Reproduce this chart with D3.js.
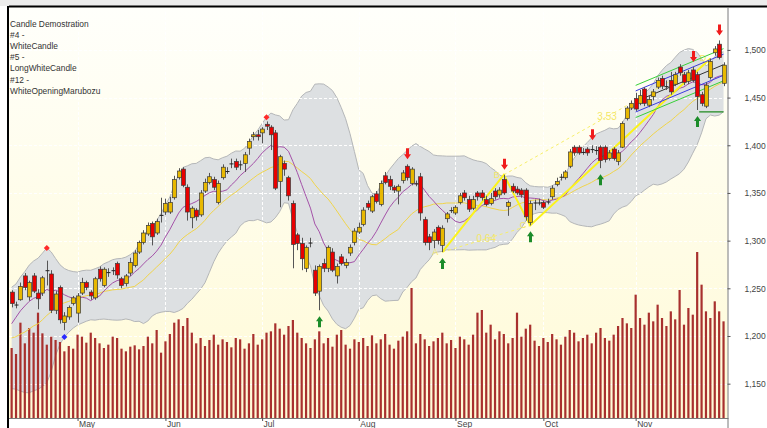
<!DOCTYPE html>
<html>
<head>
<meta charset="utf-8">
<script src="https://cdn.jsdelivr.net/npm/d3@7"></script>
<style>
  body { margin: 0; background: #fff; }
  svg { display: block; font-family: "Liberation Sans", Arial, sans-serif; }
</style>
</head>
<body>
<svg id="chart" width="767" height="428"></svg>
<script>
// ---- data ----
const legendLines = ["Candle Demostration", "#4 -", "WhiteCandle", "#5 -", "LongWhiteCandle", "#12 -", "WhiteOpeningMarubozu"];

// closes before the first visible day, only used by the moving averages / band
const leadCloses = [1205, 1198, 1210, 1190, 1183, 1195, 1178, 1177, 1150, 1144,
  1165, 1185, 1200, 1208, 1215, 1222, 1225, 1228, 1247];

const opens = [1246, 1233, 1238, 1263, 1241, 1263, 1245, 1245, 1269, 1265,
  1227, 1251, 1214, 1220, 1234, 1224, 1245, 1256, 1246, 1240,
  1270, 1253, 1267, 1269, 1276, 1260, 1255, 1266, 1274, 1288,
  1298, 1307, 1318, 1308, 1327, 1330, 1330, 1345, 1366, 1375,
  1356, 1324, 1332, 1327, 1352, 1361, 1364, 1340, 1366, 1373,
  1381, 1383, 1380, 1381, 1397, 1409, 1411, 1413, 1422, 1419,
  1413, 1362, 1381, 1366, 1339, 1306, 1297, 1271, 1298, 1269,
  1247, 1276, 1271, 1288, 1263, 1283, 1274, 1287, 1298, 1309,
  1317, 1339, 1331, 1349, 1338, 1368, 1364, 1356, 1352, 1363,
  1378, 1360, 1360, 1367, 1322, 1304, 1300, 1314, 1295, 1323,
  1332, 1329, 1340, 1350, 1343, 1334, 1350, 1350, 1343, 1339,
  1352, 1348, 1364, 1336, 1357, 1354, 1353, 1353, 1319, 1340,
  1340, 1340, 1341, 1346, 1359, 1367, 1366, 1378, 1398, 1398,
  1393, 1396, 1396, 1395, 1398, 1398, 1386, 1396, 1383, 1398,
  1428, 1439, 1449, 1444, 1459, 1442, 1451, 1461, 1470, 1462,
  1468, 1464, 1482, 1474, 1467, 1479, 1474, 1453, 1441, 1471,
  1497, 1506, 1465];
const highs = [1248, 1236, 1256, 1266, 1258, 1266, 1249, 1263, 1279, 1269,
  1247, 1253, 1225, 1232, 1242, 1245, 1261, 1258, 1248, 1262,
  1273, 1272, 1271, 1272, 1278, 1262, 1265, 1282, 1290, 1300,
  1311, 1319, 1320, 1323, 1345, 1344, 1346, 1368, 1376, 1377,
  1359, 1336, 1334, 1353, 1365, 1371, 1367, 1363, 1380, 1377,
  1386, 1386, 1384, 1393, 1407, 1414, 1416, 1419, 1425, 1421,
  1416, 1390, 1384, 1368, 1342, 1308, 1303, 1295, 1303, 1274,
  1275, 1281, 1295, 1292, 1276, 1286, 1281, 1296, 1313, 1319,
  1335, 1342, 1348, 1352, 1363, 1372, 1368, 1358, 1359, 1374,
  1380, 1377, 1363, 1371, 1325, 1307, 1312, 1316, 1316, 1330,
  1335, 1337, 1350, 1353, 1347, 1347, 1352, 1353, 1347, 1350,
  1355, 1356, 1369, 1342, 1360, 1357, 1355, 1355, 1342, 1343,
  1344, 1342, 1344, 1358, 1366, 1370, 1374, 1396, 1400, 1400,
  1397, 1398, 1400, 1399, 1400, 1400, 1395, 1398, 1395, 1425,
  1441, 1447, 1455, 1458, 1461, 1452, 1459, 1471, 1473, 1468,
  1477, 1477, 1485, 1477, 1479, 1482, 1477, 1456, 1466, 1491,
  1504, 1510, 1487];
const lows = [1230, 1229, 1237, 1248, 1237, 1245, 1228, 1242, 1253, 1224,
  1223, 1213, 1206, 1217, 1232, 1214, 1243, 1248, 1238, 1238,
  1257, 1251, 1262, 1264, 1260, 1250, 1252, 1263, 1272, 1286,
  1296, 1305, 1295, 1306, 1319, 1327, 1328, 1343, 1364, 1356,
  1321, 1313, 1321, 1325, 1350, 1359, 1353, 1338, 1364, 1370,
  1376, 1374, 1374, 1372, 1390, 1405, 1405, 1402, 1416, 1395,
  1353, 1335, 1368, 1342, 1271, 1290, 1269, 1267, 1293, 1242,
  1227, 1267, 1267, 1267, 1255, 1274, 1271, 1284, 1295, 1307,
  1315, 1332, 1329, 1339, 1336, 1359, 1353, 1350, 1338, 1360,
  1363, 1358, 1357, 1321, 1295, 1290, 1292, 1296, 1288, 1319,
  1329, 1327, 1338, 1342, 1330, 1332, 1342, 1342, 1336, 1337,
  1343, 1345, 1348, 1326, 1350, 1348, 1345, 1321, 1316, 1332,
  1337, 1333, 1338, 1343, 1357, 1363, 1364, 1376, 1389, 1390,
  1390, 1389, 1392, 1390, 1376, 1382, 1384, 1384, 1379, 1397,
  1426, 1437, 1436, 1442, 1441, 1440, 1447, 1459, 1459, 1458,
  1453, 1462, 1473, 1463, 1464, 1466, 1437, 1441, 1439, 1469,
  1494, 1490, 1462];
const closes = [1234, 1233, 1252, 1251, 1256, 1247, 1239, 1261, 1269, 1227,
  1244, 1217, 1221, 1230, 1240, 1242, 1256, 1251, 1242, 1260,
  1260, 1270, 1267, 1269, 1264, 1253, 1263, 1277, 1287, 1298,
  1308, 1316, 1304, 1320, 1327, 1339, 1340, 1364, 1373, 1358,
  1330, 1334, 1325, 1350, 1361, 1367, 1356, 1360, 1377, 1373,
  1381, 1377, 1380, 1390, 1404, 1411, 1409, 1417, 1420, 1411,
  1355, 1388, 1375, 1347, 1296, 1297, 1281, 1293, 1298, 1245,
  1273, 1271, 1293, 1269, 1273, 1276, 1277, 1293, 1310, 1314,
  1332, 1335, 1346, 1341, 1360, 1361, 1357, 1353, 1357, 1371,
  1366, 1375, 1360, 1329, 1298, 1298, 1309, 1300, 1313, 1328,
  1332, 1335, 1347, 1345, 1333, 1343, 1346, 1345, 1338, 1344,
  1346, 1353, 1350, 1340, 1352, 1350, 1348, 1325, 1339, 1340,
  1340, 1335, 1341, 1355, 1362, 1367, 1372, 1393, 1392, 1392,
  1393, 1392, 1396, 1395, 1384, 1385, 1392, 1386, 1392, 1423,
  1439, 1444, 1438, 1452, 1444, 1448, 1456, 1468, 1462, 1462,
  1456, 1474, 1476, 1466, 1476, 1468, 1451, 1444, 1463, 1488,
  1501, 1492, 1484];
const volumes = [105, 96, 143, 112, 135, 128, 158, 127, 110, 122,
  117, 114, 100, 108, 104, 125, 122, 113, 128, 120,
  112, 105, 110, 122, 120, 104, 100, 107, 109, 103,
  108, 122, 112, 132, 98, 115, 126, 143, 148, 138,
  150, 128, 112, 120, 108, 117, 125, 110, 118, 114,
  106, 120, 118, 104, 112, 126, 110, 118, 128, 130,
  142, 134, 125, 138, 147, 128, 120, 112, 105, 118,
  130, 112, 120, 107, 125, 132, 110, 104, 118, 114,
  120, 108, 124, 112, 118, 126, 110, 104, 116, 122,
  130, 195, 112, 126, 118, 108, 115, 120, 128, 112,
  117, 105, 122, 118, 110, 125, 158, 162, 128, 140,
  118, 130, 126, 112, 120, 158, 122, 134, 140, 116,
  108, 120, 114, 126, 118, 110, 122, 132, 128, 115,
  120, 125, 112, 128, 135, 120, 116, 125, 138, 150,
  142, 135, 185, 150, 140, 158, 145, 170, 150, 138,
  160, 148, 192, 140, 165, 155, 249, 200, 160, 150,
  175, 160, 145];

const monthLabels = ["May", "Jun", "Jul", "Aug", "Sep", "Oct", "Nov"];
const monthStarts = [15, 35, 57, 79, 101, 121, 142];
const priceTicks = [1150, 1200, 1250, 1300, 1350, 1400, 1450, 1500];

// signal markers (day index)
const upperBandDots = [8, 58];
const lowerBandDots = [12];
const sellArrows = [90, 112, 132, 155, 161];
const buyArrows = [70, 98, 118, 134, 156];

// ABCD pattern
const patternPoints = [
  { label: "A", day: 98, value: 1288 },
  { label: "B", day: 112, value: 1369 },
  { label: "C", day: 118, value: 1316 },
  { label: "D", day: 159, value: 1491 }
];
const patternRatios = [
  { label: "0.64", from: 0, to: 2 },
  { label: "3.53", from: 1, to: 3 }
];

const channelStart = 142;
const supportLine = { from: 156, to: 162, value: 1435 };

// ---- layout ----
const W = 767, H = 428;
const plot = { left: 9, top: 7, right: 727.5, bottom: 418 };
const N = closes.length;

const svg = d3.select("#chart");
const defs = svg.append("defs");

const grad = defs.append("linearGradient").attr("id", "bg").attr("x1", 0).attr("y1", 0).attr("x2", 0).attr("y2", 1);
grad.append("stop").attr("offset", "0%").attr("stop-color", "#fffffb");
grad.append("stop").attr("offset", "100%").attr("stop-color", "#fffad6");

defs.append("clipPath").attr("id", "clip")
  .append("rect").attr("x", plot.left).attr("y", plot.top)
  .attr("width", plot.right - plot.left).attr("height", plot.bottom - plot.top);

const x = d3.scaleLinear().domain([-0.6, N - 0.1]).range([plot.left, plot.right]);
const y = d3.scaleLinear().domain([1114, 1545]).range([plot.bottom, plot.top]);
const yVol = d3.scaleLinear().domain([0, 300]).range([plot.bottom, 218]);

// ---- indicators ----
const all = leadCloses.concat(closes);
const L = leadCloses.length;
function windowAt(p, i) {
  const end = L + i;
  return all.slice(Math.max(0, end - p + 1), end + 1);
}
function sma(p, i) { return d3.mean(windowAt(p, i)); }
function band(i) {
  const w = windowAt(20, i);
  const m = d3.mean(w);
  const sd = Math.sqrt(d3.mean(w, v => (v - m) * (v - m)));
  return { mid: m, up: m + 2 * sd, lo: m - 2 * sd };
}
const days = d3.range(N);
const bands = days.map(band);

// ---- frame ----
svg.append("rect").attr("width", W).attr("height", H).attr("fill", "#fff");
svg.append("rect").attr("width", W).attr("height", 6).attr("fill", "#ececec");
svg.append("rect").attr("x", plot.left).attr("y", plot.top)
  .attr("width", plot.right - plot.left).attr("height", plot.bottom - plot.top)
  .attr("fill", "url(#bg)");

const g = svg.append("g").attr("clip-path", "url(#clip)");

// bollinger band
g.append("path")
  .datum(days)
  .attr("d", d3.area().x(i => x(i)).y0(i => y(bands[i].lo)).y1(i => y(bands[i].up)))
  .attr("fill", "#dde0e2");
[b => b.up, b => b.lo].forEach(f => {
  g.append("path").datum(days)
    .attr("d", d3.line().x(i => x(i)).y(i => y(f(bands[i]))))
    .attr("fill", "none").attr("stroke", "#b4b6b8").attr("stroke-width", 1);
});

// grid
g.selectAll(".hgrid").data(priceTicks).join("line")
  .attr("x1", plot.left).attr("x2", plot.right)
  .attr("y1", d => Math.round(y(d)) + 0.5).attr("y2", d => Math.round(y(d)) + 0.5)
  .attr("stroke", "#fff").attr("stroke-dasharray", "3,2");
g.selectAll(".vgrid").data(monthStarts).join("line")
  .attr("y1", plot.top).attr("y2", plot.bottom)
  .attr("x1", d => Math.round(x(d)) + 0.5).attr("x2", d => Math.round(x(d)) + 0.5)
  .attr("stroke", "#fff").attr("stroke-dasharray", "3,2");

// volume
g.selectAll(".vol").data(days).join("rect")
  .attr("x", i => x(i) - 1.1).attr("width", 2.2)
  .attr("y", i => yVol(volumes[i])).attr("height", i => plot.bottom - yVol(volumes[i]))
  .attr("fill", "#a8302e");

// moving averages
g.append("path").datum(days)
  .attr("d", d3.line().x(i => x(i)).y(i => y(bands[i].mid)))
  .attr("fill", "none").attr("stroke", "#f0d44a").attr("stroke-width", 1);
g.append("path").datum(days)
  .attr("d", d3.line().x(i => x(i)).y(i => y(sma(10, i))))
  .attr("fill", "none").attr("stroke", "#a452a8").attr("stroke-width", 1);

// ABCD pattern
const pp = patternPoints;
patternRatios.forEach(r => {
  const a = pp[r.from], b = pp[r.to];
  g.append("line")
    .attr("x1", x(a.day)).attr("y1", y(a.value)).attr("x2", x(b.day)).attr("y2", y(b.value))
    .attr("stroke", "#f6ee6a").attr("stroke-width", 1).attr("stroke-dasharray", "3,3");
  g.append("text")
    .attr("x", (x(a.day) + x(b.day)) / 2).attr("y", (y(a.value) + y(b.value)) / 2 + 3)
    .attr("text-anchor", "middle").attr("font-size", 10).attr("fill", "#f4e768")
    .text(r.label);
});
g.append("path").datum(pp)
  .attr("d", d3.line().x(d => x(d.day)).y(d => y(d.value)))
  .attr("fill", "none").attr("stroke", "#fbf31c").attr("stroke-width", 2);
g.selectAll(".plabel").data(pp).join("text")
  .attr("x", d => x(d.day) - 4).attr("y", d => y(d.value) + 3)
  .attr("text-anchor", "end").attr("font-size", 9).attr("fill", "#f4e768")
  .text(d => d.label);

// regression channel over the last days
const chDays = d3.range(channelStart, N);
const mx = d3.mean(chDays), my = d3.mean(chDays, i => closes[i]);
const slope = d3.sum(chDays, i => (i - mx) * (closes[i] - my)) / d3.sum(chDays, i => (i - mx) * (i - mx));
const resid = Math.sqrt(d3.mean(chDays, i => Math.pow(closes[i] - (my + slope * (i - mx)), 2)));
[[1.45, "#39d039"], [0.95, "#3a3ae0"], [0, "#333"], [-0.95, "#3a3ae0"], [-1.45, "#39d039"]].forEach(([k, c]) => {
  const a = channelStart, b = N - 1;
  g.append("line")
    .attr("x1", x(a)).attr("y1", y(my + slope * (a - mx) + k * resid))
    .attr("x2", x(b)).attr("y2", y(my + slope * (b - mx) + k * resid))
    .attr("stroke", c).attr("stroke-width", 1);
});
g.append("line")
  .attr("x1", x(supportLine.from) + 2).attr("x2", x(supportLine.to))
  .attr("y1", y(supportLine.value)).attr("y2", y(supportLine.value))
  .attr("stroke", "#1f8a1f").attr("stroke-width", 1.3);

// candles
const candles = g.selectAll(".candle").data(days).join("g");
candles.append("line")
  .attr("x1", i => Math.round(x(i)) + 0.5).attr("x2", i => Math.round(x(i)) + 0.5)
  .attr("y1", i => y(highs[i])).attr("y2", i => y(lows[i]))
  .attr("stroke", "#555").attr("stroke-width", 1);
candles.append("rect")
  .attr("x", i => Math.round(x(i)) - 1.5).attr("width", 4)
  .attr("y", i => y(Math.max(opens[i], closes[i])))
  .attr("height", i => Math.max(1, Math.abs(y(opens[i]) - y(closes[i]))))
  .attr("fill", i => closes[i] > opens[i] ? "#e8b800" : closes[i] < opens[i] ? "#e80000" : "#222")
  .attr("stroke", i => closes[i] === opens[i] ? "none" : "#3a3a3a")
  .attr("stroke-width", 0.7);

// markers
function diamond(cx, cy, color) {
  g.append("path")
    .attr("d", `M${cx},${cy - 3}L${cx + 3},${cy}L${cx},${cy + 3}L${cx - 3},${cy}Z`)
    .attr("fill", color);
}
upperBandDots.forEach(i => diamond(x(i), y(bands[i].up), "#ff2a2a"));
lowerBandDots.forEach(i => diamond(x(i), y(bands[i].lo), "#2a2aff"));

function arrow(cx, tip, dir, color) {
  // dir = 1 points down, -1 points up
  const h = 11, head = 5;
  const base = tip - dir * h, neck = tip - dir * head;
  g.append("path")
    .attr("d", `M${cx},${tip}L${cx + 3.5},${neck}L${cx + 1.5},${neck}L${cx + 1.5},${base}` +
      `L${cx - 1.5},${base}L${cx - 1.5},${neck}L${cx - 3.5},${neck}Z`)
    .attr("fill", color);
}
sellArrows.forEach(i => arrow(Math.round(x(i)) + 0.5, y(highs[i]) - 5, 1, "#f01c1c"));
buyArrows.forEach(i => arrow(Math.round(x(i)) + 0.5, y(lows[i]) + 6, -1, "#1c8c2a"));

// ---- axes ----
svg.append("line").attr("x1", plot.left).attr("x2", W).attr("y1", 6.5).attr("y2", 6.5)
  .attr("stroke", "#000").attr("stroke-width", 2);
svg.append("line").attr("x1", 8).attr("x2", 8).attr("y1", 6).attr("y2", H)
  .attr("stroke", "#000").attr("stroke-width", 2);

const yAxis = svg.append("g").attr("transform", `translate(${plot.right},0)`)
  .call(d3.axisRight(y).tickValues(priceTicks).tickFormat(d3.format(",")).tickSize(3).tickPadding(14));
yAxis.select(".domain").attr("d", `M0.5,${plot.top}V${H}`).attr("stroke", "#7a7a7a");
yAxis.selectAll(".tick line").attr("stroke", "#555");
yAxis.selectAll("text").attr("font-size", 8.5).attr("fill", "#444").attr("font-family", "Liberation Sans, Arial, sans-serif");

const xAxis = svg.append("g").attr("transform", `translate(0,${plot.bottom})`)
  .call(d3.axisBottom(x).tickValues(monthStarts).tickFormat((d, k) => monthLabels[k]).tickSize(3).tickPadding(0));
xAxis.select(".domain").attr("d", `M${plot.left},0.5H${plot.right + 1}`).attr("stroke", "#7a7a7a");
xAxis.selectAll(".tick line").attr("stroke", "#555");
xAxis.selectAll("text").attr("font-size", 8.5).attr("fill", "#444")
  .attr("text-anchor", "start").attr("dx", 1)
  .attr("font-family", "Liberation Sans, Arial, sans-serif");

// legend
svg.append("g").selectAll("text").data(legendLines).join("text")
  .attr("x", 10).attr("y", (d, k) => 27 + k * 11.1)
  .attr("font-size", 8.4).attr("fill", "#333")
  .text(d => d);
</script>
</body>
</html>
